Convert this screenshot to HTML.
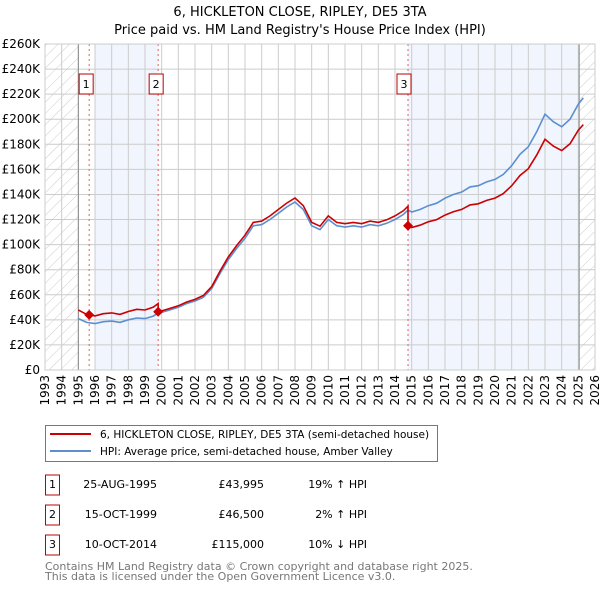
<!DOCTYPE html>
<html><head><meta charset="utf-8">
<style>
body{margin:0;background:#fff;font-family:"DejaVu Sans","Liberation Sans",sans-serif;}
svg text{font-family:"DejaVu Sans","Liberation Sans",sans-serif;}
</style></head>
<body>
<svg id="chart" width="600" height="590" xmlns="http://www.w3.org/2000/svg">
<defs>
<pattern id="hatch" patternUnits="userSpaceOnUse" width="8" height="8" patternTransform="rotate(45)">
<line x1="0" y1="0" x2="0" y2="8" stroke="#ccc" stroke-width="1"/>
</pattern>
</defs>
<text x="300" y="16" text-anchor="middle" font-size="13">6, HICKLETON CLOSE, RIPLEY, DE5 3TA</text>
<text x="300" y="34" text-anchor="middle" font-size="13">Price paid vs. HM Land Registry's House Price Index (HPI)</text>
<g id="plot"></g>
<rect x="45.5" y="425.5" width="392" height="36" fill="#fff" stroke="#777"/>
<line x1="50" y1="434" x2="91" y2="434" stroke="#cc0000" stroke-width="2"/>
<text x="100" y="438" font-size="10.5">6, HICKLETON CLOSE, RIPLEY, DE5 3TA (semi-detached house)</text>
<line x1="50" y1="451" x2="91" y2="451" stroke="#5b8fd0" stroke-width="2"/>
<text x="100" y="455" font-size="10.5">HPI: Average price, semi-detached house, Amber Valley</text>
<g id="table" font-size="11"></g>
<text x="45" y="570" font-size="11" fill="#777">Contains HM Land Registry data © Crown copyright and database right 2025.</text>
<text x="45" y="580" font-size="11" fill="#777">This data is licensed under the Open Government Licence v3.0.</text>
</svg>
<script>
const hpiYears=[1995,1995.5,1996,1996.5,1997,1997.5,1998,1998.5,1999,1999.5,1999.8,2000,2000.5,2001,2001.5,2002,2002.5,2003,2003.5,2004,2004.5,2005,2005.5,2006,2006.5,2007,2007.5,2008,2008.5,2009,2009.5,2010,2010.5,2011,2011.5,2012,2012.5,2013,2013.5,2014,2014.5,2014.78,2015,2015.5,2016,2016.5,2017,2017.5,2018,2018.5,2019,2019.5,2020,2020.5,2021,2021.5,2022,2022.5,2023,2023.5,2024,2024.5,2025,2025.3];
const hpiValues=[41,38,37,38.5,39,38,40,41.5,41,43,45.5,46,48,50,53,55,58,65,77,88,97,105,115,116,120,125,130,134,128,115,112,120,115,114,115,114,116,115,117,120,124,127.5,126,128,131,133,137,140,142,146,147,150,152,156,163,172,178,190,204,198,194,200,212,217];
const saleLabels=["1","2","3"];
const saleYears=[1995.65,1999.79,2014.78];
const salePrices=[43995,46500,115000];
const saleDates=["25-AUG-1995","15-OCT-1999","10-OCT-2014"];
const salePriceText=["£43,995","£46,500","£115,000"];
const saleHpiText=["19% ↑ HPI","2% ↑ HPI","10% ↓ HPI"];
const yTicks=[0,20,40,60,80,100,120,140,160,180,200,220,240,260];
const xTicks=[1993,1994,1995,1996,1997,1998,1999,2000,2001,2002,2003,2004,2005,2006,2007,2008,2009,2010,2011,2012,2013,2014,2015,2016,2017,2018,2019,2020,2021,2022,2023,2024,2025,2026];

const X0=45,X1=595,Y0=370,Y1=44;
const xs=y=>X0+(y-1993)*(X1-X0)/33;
const ys=v=>Y0-v*(Y0-Y1)/260;
const NS="http://www.w3.org/2000/svg";
const plot=document.getElementById('plot');
function mk(tag,attrs,parent){const e=document.createElementNS(NS,tag);for(const k in attrs)e.setAttribute(k,attrs[k]);(parent||plot).appendChild(e);return e;}
function hpiAt(t){for(let i=0;i<hpiYears.length-1;i++){if(t>=hpiYears[i]&&t<=hpiYears[i+1]){const f=(t-hpiYears[i])/(hpiYears[i+1]-hpiYears[i]);return hpiValues[i]+f*(hpiValues[i+1]-hpiValues[i]);}}return hpiValues[hpiValues.length-1];}

let e;
e=mk('rect',{x:xs(1996),y:Y1,width:xs(saleYears[1])-xs(1996),height:Y0-Y1,fill:'#f1f5fd'});


e=mk('rect',{x:xs(saleYears[2]),y:Y1,width:xs(2025.05)-xs(saleYears[2]),height:Y0-Y1,fill:'#f1f5fd'});


e=mk('rect',{x:X0,y:Y1,width:xs(1995)-X0,height:Y0-Y1,fill:'url(#hatch)'});


e=mk('rect',{x:xs(2025.05),y:Y1,width:X1-xs(2025.05),height:Y0-Y1,fill:'url(#hatch)'});



yTicks.forEach(v=>{
 e=mk('line',{x1:X0,x2:X1,y1:ys(v),y2:ys(v),stroke:'#ccc','stroke-width':1});
 
 
 e=mk('text',{x:40,y:ys(v)+4,'text-anchor':'end','font-size':12});
 
 
 e.textContent=v===0?'£0':'£'+v+'K';
});
xTicks.forEach(yr=>{
 e=mk('line',{x1:xs(yr),x2:xs(yr),y1:Y1,y2:Y0,stroke:'#ccc','stroke-width':1});
 
 
 e=mk('text',{x:0,y:0,'text-anchor':'end','font-size':12,transform:`translate(${xs(yr)+4},375) rotate(-90)`});
 
 
 e.textContent=yr;
});
e=mk('line',{x1:xs(1995),x2:xs(1995),y1:Y1,y2:Y0,stroke:'#888','stroke-width':1});


e=mk('line',{x1:xs(2025.05),x2:xs(2025.05),y1:Y1,y2:Y0,stroke:'#888','stroke-width':1});



const boxOffsets=[-10,-9,-11];
saleYears.forEach((s,i)=>{
 e=mk('line',{x1:xs(s),x2:xs(s),y1:Y1,y2:Y0,stroke:'#e06060','stroke-width':1,'stroke-dasharray':'2,3'});
 
 
 const bx=xs(s)+boxOffsets[i];
 e=mk('rect',{x:bx,y:74,width:14,height:20,fill:'#fff',stroke:'#b00'});
 
 
 e=mk('text',{x:bx+7,y:88,'text-anchor':'middle','font-size':11});
 
 
 e.textContent=saleLabels[i];
});

let d=hpiYears.map((t,i)=>(i?'L':'M')+xs(t).toFixed(1)+','+ys(hpiValues[i]).toFixed(1)).join(' ');
e=mk('path',{d:d,fill:'none',stroke:'#5b8fd0','stroke-width':1.6});



function propAt(t){let k=0;for(let i=0;i<saleYears.length;i++)if(t>=saleYears[i])k=i;return salePrices[k]/1000*hpiAt(t)/hpiAt(saleYears[k]);}
let pts=[];
hpiYears.forEach(t=>pts.push(t));
saleYears.forEach(t=>{pts.push(t);pts.push(t-0.001);});
pts.sort((a,b)=>a-b);
d=pts.map((t,i)=>(i?'L':'M')+xs(t).toFixed(1)+','+ys(propAt(t)).toFixed(1)).join(' ');
e=mk('path',{d:d,fill:'none',stroke:'#cc0000','stroke-width':1.6});



saleYears.forEach((s,i)=>{
 const cx=xs(s),cy=ys(salePrices[i]/1000);
 e=mk('path',{d:`M${cx},${cy-5} L${cx+5},${cy} L${cx},${cy+5} L${cx-5},${cy} Z`,fill:'#cc0000'});
 
 
});

const tbl=document.getElementById('table');
saleYears.forEach((s,i)=>{
 const y=485+i*30;
 e=mk('rect',{x:45.5,y:y-10,width:14,height:20,fill:'#fff',stroke:'#b00'},tbl);
 
 
 e=mk('text',{x:52.5,y:y+3,'text-anchor':'middle'},tbl);
 
 
 e.textContent=saleLabels[i];
 e=mk('text',{x:157,y:y+3,'text-anchor':'end'},tbl);
 
 
 e.textContent=saleDates[i];
 e=mk('text',{x:264,y:y+3,'text-anchor':'end'},tbl);
 
 
 e.textContent=salePriceText[i];
 e=mk('text',{x:367,y:y+3,'text-anchor':'end'},tbl);
 
 
 e.textContent=saleHpiText[i];
});
e=mk('rect',{x:X0,y:Y1,width:X1-X0,height:Y0-Y1,fill:'none',stroke:'#ccc'});


</script>
</body></html>
